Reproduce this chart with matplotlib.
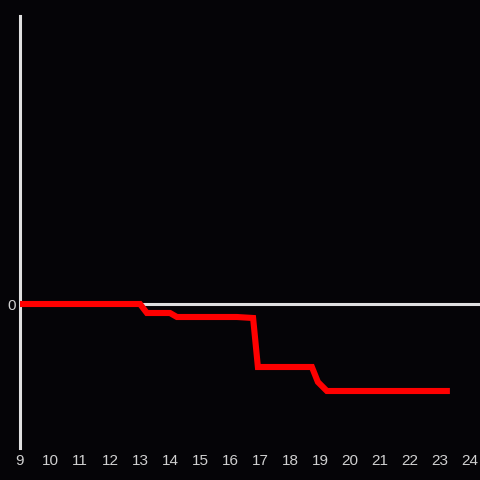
import matplotlib
matplotlib.use("Agg")
import matplotlib.pyplot as plt

# Data
hours = [9.0, 13.0, 13.23, 14.0, 14.23, 16.23, 16.77, 16.93, 18.73, 18.93, 19.23, 23.33]
values = [0, 0, -9, -9, -13, -13, -14, -63, -63, -78, -87, -87]
xticks = list(range(9, 25))
yticks = [0]

bg = "#050407"
fg = "#e0e0e0"

fig = plt.figure(figsize=(4.8, 4.8), dpi=100, facecolor=bg)
ax = fig.add_axes([20/480, 32/480, 460/480, 432/480], facecolor=bg)

ax.set_xlim(9, 9 + 460/30)
ax.set_ylim(-144, 288)

ax.axhline(0, color=fg, lw=2.2, zorder=1)
ax.plot(hours, values, color="#ff0000", lw=4.4, solid_joinstyle="miter",
        solid_capstyle="butt", zorder=3, clip_on=False)

for s in ["top", "right", "bottom"]:
    ax.spines[s].set_visible(False)
ax.spines["left"].set_color(fg)
ax.spines["left"].set_linewidth(2.2)
ax.spines["left"].set_zorder(2)

ax.set_xticks(xticks)
ax.set_xticklabels([str(t) for t in xticks])
ax.set_yticks(yticks)
ax.set_yticklabels(["0"])
ax.tick_params(axis="both", length=0, colors="#d0d0d0", labelsize=11)
ax.tick_params(axis="x", pad=4.5)
ax.tick_params(axis="y", pad=3)
for lab in ax.get_xticklabels() + ax.get_yticklabels():
    lab.set_fontfamily("Liberation Sans")

fig.savefig("out.png", dpi=100, facecolor=bg)
